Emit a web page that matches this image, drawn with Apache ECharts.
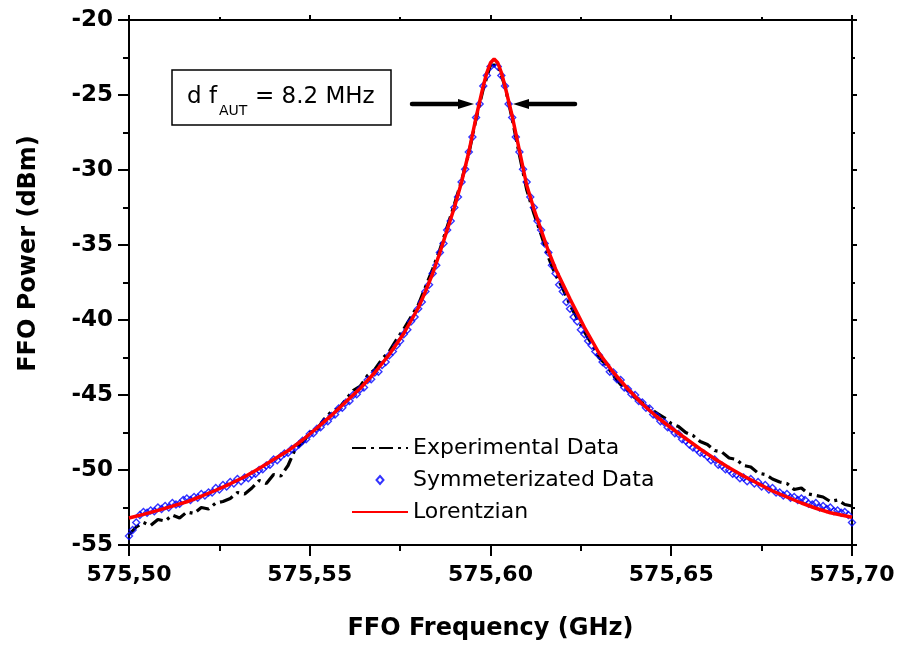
<!DOCTYPE html>
<html>
<head>
<meta charset="utf-8">
<script src="https://cdn.jsdelivr.net/npm/echarts@6/dist/echarts.min.js"></script>
<style>
  html, body { margin: 0; padding: 0; background: #fff; }
  #chart { width: 898px; height: 646px; }
</style>
</head>
<body>
<div id="chart"></div>
<script>
// experimental spectrum (black dash-dot)
const expFreq = [
  575.500, 575.502, 575.504, 575.506, 575.508, 575.510, 575.512, 575.514, 575.516, 575.518,
  575.520, 575.522, 575.524, 575.526, 575.528, 575.530, 575.532, 575.534, 575.536, 575.538,
  575.540, 575.542, 575.544, 575.546, 575.548, 575.550, 575.552, 575.554, 575.556, 575.558,
  575.560, 575.562, 575.564, 575.566, 575.568, 575.570, 575.572, 575.574, 575.576, 575.578,
  575.580, 575.582, 575.584, 575.586, 575.588, 575.590, 575.592, 575.594, 575.596, 575.598,
  575.600, 575.602, 575.604, 575.606, 575.608, 575.610, 575.612, 575.614, 575.616, 575.618,
  575.620, 575.622, 575.624, 575.626, 575.628, 575.630, 575.632, 575.634, 575.636, 575.638,
  575.640, 575.642, 575.644, 575.646, 575.648, 575.650, 575.652, 575.654, 575.656, 575.658,
  575.660, 575.662, 575.664, 575.666, 575.668, 575.670, 575.672, 575.674, 575.676, 575.678,
  575.680, 575.682, 575.684, 575.686, 575.688, 575.690, 575.692, 575.694, 575.696, 575.698,
  575.700
];
const expPower = [
  -54.3, -53.8, -53.5, -53.7, -53.3, -53.4, -53.0, -53.2, -52.8, -52.9,
  -52.5, -52.6, -52.2, -52.1, -51.9, -51.5, -51.6, -51.2, -50.7, -50.9,
  -50.3, -50.4, -49.7, -48.6, -48.2, -47.5, -47.3, -46.6, -46.1, -45.9,
  -45.3, -44.7, -44.4, -43.7, -43.3, -42.6, -42.1, -41.3, -40.6, -39.8,
  -39.0, -37.8, -36.6, -35.3, -33.8, -32.3, -30.7, -28.9, -26.6, -24.6,
  -23.0, -23.0, -24.4, -26.6, -29.0, -31.3, -32.9, -34.3, -35.8, -37.0,
  -37.9, -39.0, -39.9, -40.8, -41.6, -42.5, -43.0, -43.7, -44.3, -44.7,
  -45.2, -45.5, -45.9, -46.2, -46.5, -46.9, -47.1, -47.5, -47.7, -48.1,
  -48.3, -48.7, -48.8, -49.2, -49.3, -49.7, -49.8, -50.2, -50.3, -50.6,
  -50.8, -50.9, -51.3, -51.2, -51.6, -51.7, -51.8, -52.1, -52.0, -52.3,
  -52.4
];

// symmetrized spectrum (blue diamonds)
const symFreq = [
  575.500, 575.501, 575.502, 575.503, 575.504, 575.505, 575.506, 575.507, 575.508, 575.509,
  575.510, 575.511, 575.512, 575.513, 575.514, 575.515, 575.516, 575.517, 575.518, 575.519,
  575.520, 575.521, 575.522, 575.523, 575.524, 575.525, 575.526, 575.527, 575.528, 575.529,
  575.530, 575.531, 575.532, 575.533, 575.534, 575.535, 575.536, 575.537, 575.538, 575.539,
  575.540, 575.541, 575.542, 575.543, 575.544, 575.545, 575.546, 575.547, 575.548, 575.549,
  575.550, 575.551, 575.552, 575.553, 575.554, 575.555, 575.556, 575.557, 575.558, 575.559,
  575.560, 575.561, 575.562, 575.563, 575.564, 575.565, 575.566, 575.567, 575.568, 575.569,
  575.570, 575.571, 575.572, 575.573, 575.574, 575.575, 575.576, 575.577, 575.578, 575.579,
  575.580, 575.581, 575.582, 575.583, 575.584, 575.585, 575.586, 575.587, 575.588, 575.589,
  575.590, 575.591, 575.592, 575.593, 575.594, 575.595, 575.596, 575.597, 575.598, 575.599,
  575.600, 575.601,
  575.602, 575.603, 575.604, 575.605, 575.606, 575.607, 575.608, 575.609, 575.610, 575.611,
  575.612, 575.613, 575.614, 575.615, 575.616, 575.617, 575.618, 575.619, 575.620, 575.621,
  575.622, 575.623, 575.624, 575.625, 575.626, 575.627, 575.628, 575.629, 575.630, 575.631,
  575.632, 575.633, 575.634, 575.635, 575.636, 575.637, 575.638, 575.639, 575.640, 575.641,
  575.642, 575.643, 575.644, 575.645, 575.646, 575.647, 575.648, 575.649, 575.650, 575.651,
  575.652, 575.653, 575.654, 575.655, 575.656, 575.657, 575.658, 575.659, 575.660, 575.661,
  575.662, 575.663, 575.664, 575.665, 575.666, 575.667, 575.668, 575.669, 575.670, 575.671,
  575.672, 575.673, 575.674, 575.675, 575.676, 575.677, 575.678, 575.679, 575.680, 575.681,
  575.682, 575.683, 575.684, 575.685, 575.686, 575.687, 575.688, 575.689, 575.690, 575.691,
  575.692, 575.693, 575.694, 575.695, 575.696, 575.697, 575.698, 575.699, 575.700
];
const symPower = [
  -54.4, -54.0, -53.5, -53.0, -52.8, -52.85, -52.7, -52.75, -52.5, -52.6,
  -52.4, -52.5, -52.2, -52.3, -52.25, -52.0, -51.9, -52.0, -51.8, -51.85,
  -51.6, -51.7, -51.5, -51.5, -51.2, -51.3, -51.0, -51.1, -50.8, -50.9,
  -50.6, -50.75, -50.5, -50.55, -50.3, -50.25, -50.0, -49.95, -49.7, -49.65,
  -49.3, -49.35, -49.1, -48.9, -48.85, -48.6, -48.5, -48.3, -48.05, -47.95,
  -47.6, -47.55, -47.25, -47.15, -46.8, -46.75, -46.4, -46.3, -45.9, -45.85,
  -45.5, -45.4, -45.0, -44.95, -44.6, -44.5, -44.0, -43.95, -43.5, -43.45,
  -43.0, -42.8, -42.35, -42.1, -41.7, -41.4, -40.95, -40.65, -40.1, -39.8,
  -39.25, -38.8, -38.1, -37.65, -36.9, -36.35, -35.5, -34.9, -34.0, -33.4,
  -32.5, -31.8, -30.8, -29.95, -28.8, -27.8, -26.5, -25.6, -24.4, -23.7,
  -23.1, -22.9,
  -23.1, -23.7, -24.4, -25.6, -26.5, -27.8, -28.8, -29.95, -30.8, -31.8,
  -32.5, -33.4, -34.0, -34.9, -35.5, -36.35, -36.9, -37.65, -38.1, -38.8,
  -39.25, -39.8, -40.1, -40.65, -40.95, -41.4, -41.7, -42.1, -42.35, -42.8,
  -43.0, -43.45, -43.5, -43.95, -44.0, -44.5, -44.6, -44.95, -45.0, -45.4,
  -45.5, -45.85, -45.9, -46.3, -46.4, -46.75, -46.8, -47.15, -47.25, -47.55,
  -47.6, -47.95, -48.05, -48.3, -48.5, -48.6, -48.85, -48.9, -49.1, -49.35,
  -49.3, -49.65, -49.7, -49.95, -50.0, -50.25, -50.3, -50.55, -50.5, -50.75,
  -50.6, -50.9, -50.8, -51.1, -51.0, -51.3, -51.2, -51.5, -51.5, -51.7,
  -51.6, -51.85, -51.8, -52.0, -51.9, -52.0, -52.25, -52.3, -52.2, -52.5,
  -52.4, -52.6, -52.5, -52.75, -52.7, -52.85, -52.8, -53.0, -53.5
];

// Lorentzian fit (red)
const fitFreq = [
  575.500, 575.504, 575.508, 575.512, 575.516, 575.520, 575.524, 575.528, 575.532, 575.536,
  575.540, 575.544, 575.548, 575.552, 575.556, 575.560, 575.564, 575.568, 575.572, 575.576,
  575.580, 575.582, 575.584, 575.586, 575.588, 575.590, 575.592, 575.594, 575.596, 575.598,
  575.599, 575.600, 575.601, 575.602, 575.603, 575.604, 575.606, 575.608, 575.610, 575.612,
  575.614, 575.616, 575.618, 575.620, 575.622, 575.626, 575.630, 575.634, 575.638, 575.642,
  575.646, 575.650, 575.654, 575.658, 575.662, 575.666, 575.670, 575.674, 575.678, 575.682,
  575.686, 575.690, 575.694, 575.698, 575.700
];
const fitPower = [
  -53.2, -52.96, -52.69, -52.41, -52.12, -51.75, -51.35, -50.92, -50.45, -49.9,
  -49.3, -48.72, -48.0, -47.2, -46.36, -45.45, -44.55, -43.5, -42.3, -40.9,
  -39.2, -38.1, -36.9, -35.5, -34.0, -32.5, -30.8, -28.8, -26.5, -24.4,
  -23.5, -22.85, -22.6, -22.85, -23.5, -24.4, -26.4, -28.7, -31.0, -32.6,
  -34.0, -35.4, -36.6, -37.6, -38.6, -40.5, -42.2, -43.5, -44.6, -45.6,
  -46.45, -47.2, -47.9, -48.6, -49.25, -49.85, -50.4, -50.9, -51.4, -51.8,
  -52.2, -52.55, -52.85, -53.05, -53.15
];

const xTicks = { min: 575.5, max: 575.7, step: 0.05 };
const yTicks = { min: -55, max: -20, step: 5 };

const pairs = (xs, ys) => xs.map((x, i) => [x, ys[i]]);

const axisColor = "#000";
const font = "DejaVu Sans";

const chart = echarts.init(document.getElementById("chart"));

// mirrored frame axes (top / right) carry ticks only
const frameAxis = (pos, t) => ({
  type: "value",
  position: pos,
  min: t.min,
  max: t.max,
  interval: t.step,
  axisLine: { lineStyle: { color: axisColor, width: 2 } },
  axisTick: { length: 5, lineStyle: { color: axisColor, width: 2 } },
  minorTick: { show: true, splitNumber: 2, length: 3, lineStyle: { color: axisColor, width: 2 } },
  axisLabel: { show: false },
  splitLine: { show: false },
});

const option = {
  animation: false,
  textStyle: { fontFamily: font, color: "#000" },
  grid: { left: 129, right: 46, top: 20, bottom: 98, containLabel: false },
  legend: {
    orient: "vertical",
    left: 346,
    top: 432,
    itemWidth: 56,
    itemHeight: 8,
    itemGap: 10,
    textStyle: { fontSize: 22, color: "#000", fontFamily: font },
    data: [
      { name: "Experimental Data", itemStyle: { opacity: 0 } },
      { name: "Symmeterizated Data", icon: "path://M0,4 M56,4 M28,0 L31.5,4 L28,8 L24.5,4 Z" },
      { name: "Lorentzian", itemStyle: { opacity: 0 } },
    ],
  },
  xAxis: [
    {
      type: "value",
      position: "bottom",
      min: xTicks.min,
      max: xTicks.max,
      interval: xTicks.step,
      name: "FFO Frequency (GHz)",
      nameLocation: "middle",
      nameGap: 72,
      nameTextStyle: { fontSize: 24, fontWeight: "bold", color: "#000" },
      axisLine: { lineStyle: { color: axisColor, width: 2 } },
      axisTick: { length: 11, lineStyle: { color: axisColor, width: 2 } },
      minorTick: { show: true, splitNumber: 2, length: 6, lineStyle: { color: axisColor, width: 2 } },
      axisLabel: {
        fontSize: 22,
        fontWeight: "bold",
        color: "#000",
        margin: 19,
        formatter: (v) => v.toFixed(2).replace(".", ","),
      },
      splitLine: { show: false },
    },
    frameAxis("top", xTicks),
  ],
  yAxis: [
    {
      type: "value",
      position: "left",
      min: yTicks.min,
      max: yTicks.max,
      interval: yTicks.step,
      name: "FFO Power (dBm)",
      nameLocation: "middle",
      nameGap: 88,
      nameTextStyle: { fontSize: 24, fontWeight: "bold", color: "#000", padding: [0, 0, 0, 58] },
      axisLine: { lineStyle: { color: axisColor, width: 2 } },
      axisTick: { length: 11, lineStyle: { color: axisColor, width: 2 } },
      minorTick: { show: true, splitNumber: 2, length: 6, lineStyle: { color: axisColor, width: 2 } },
      axisLabel: { fontSize: 23, fontWeight: "bold", color: "#000", margin: 16 },
      splitLine: { show: false },
    },
    frameAxis("right", yTicks),
  ],
  series: [
    {
      name: "Experimental Data",
      type: "line",
      data: pairs(expFreq, expPower),
      symbol: "none",
      color: "#000",
      lineStyle: { color: "#000", width: 3.2, type: [14, 5, 3, 5] },
      z: 2,
    },
    {
      name: "Symmeterizated Data",
      type: "scatter",
      data: pairs(symFreq, symPower),
      symbol: "diamond",
      symbolSize: 7,
      clip: false,
      itemStyle: { color: "rgba(0,0,0,0)", borderColor: "#0000ff", borderWidth: 1.4 },
      z: 3,
    },
    {
      name: "Lorentzian",
      type: "line",
      data: pairs(fitFreq, fitPower),
      symbol: "none",
      color: "#ff0000",
      lineStyle: { color: "#ff0000", width: 3.5 },
      z: 4,
    },
  ],
  graphic: [
    {
      type: "rect",
      shape: { x: 172, y: 70, width: 219, height: 55 },
      style: { fill: "#fff", stroke: "#000", lineWidth: 1.5 },
      z: 10,
    },
    {
      type: "text",
      x: 187,
      y: 109,
      style: { text: "d f", font: "23px 'DejaVu Sans'", fill: "#000", textVerticalAlign: "bottom" },
      z: 11,
    },
    {
      type: "text",
      x: 219,
      y: 118,
      style: { text: "AUT", font: "14px 'DejaVu Sans'", fill: "#000", textVerticalAlign: "bottom" },
      z: 11,
    },
    {
      type: "text",
      x: 255,
      y: 109,
      style: { text: "= 8.2 MHz", font: "23px 'DejaVu Sans'", fill: "#000", textVerticalAlign: "bottom" },
      z: 11,
    },
    {
      type: "line",
      shape: { x1: 412, y1: 104, x2: 462, y2: 104 },
      style: { stroke: "#000", lineWidth: 4.5, lineCap: "round" },
      z: 11,
    },
    {
      type: "polygon",
      shape: { points: [[474, 104], [458, 99], [458, 109]] },
      style: { fill: "#000" },
      z: 11,
    },
    {
      type: "line",
      shape: { x1: 575, y1: 104, x2: 525, y2: 104 },
      style: { stroke: "#000", lineWidth: 4.5, lineCap: "round" },
      z: 11,
    },
    {
      type: "polygon",
      shape: { points: [[513, 104], [529, 99], [529, 109]] },
      style: { fill: "#000" },
      z: 11,
    },
  ],
};

chart.setOption(option);
</script>
</body>
</html>
